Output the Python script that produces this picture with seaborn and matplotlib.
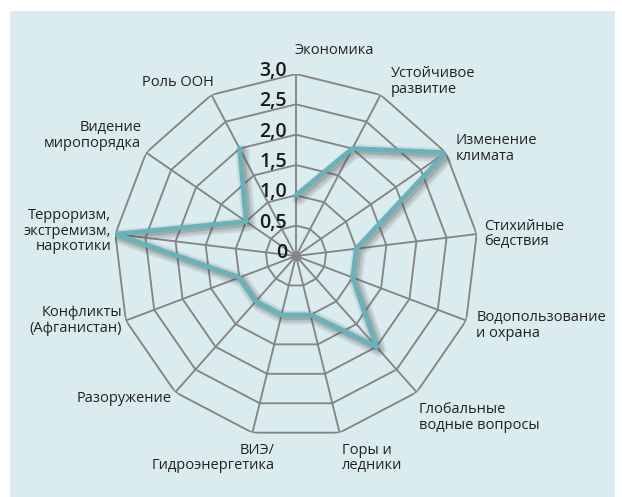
import numpy as np
import matplotlib
matplotlib.use('Agg')
import matplotlib.pyplot as plt
import matplotlib.patheffects as pe
from matplotlib.patches import Rectangle
import seaborn as sns

# Chart data
categories = ['Экономика', 'Устойчивое\nразвитие', 'Изменение\nклимата', 'Стихийные\nбедствия',
              'Водопользование\nи охрана', 'Глобальные\nводные вопросы', 'Горы и\nледники',
              'ВИЭ/\nГидроэнергетика', 'Разоружение', 'Конфликты\n(Афганистан)',
              'Терроризм,\nэкстремизм,\nнаркотики', 'Видение\nмиропорядка', 'Роль ООН']
values = [1.0, 2.0, 3.0, 1.0, 1.0, 2.0, 1.0, 1.0, 1.0, 1.0, 3.0, 1.0, 2.0]
ring_levels = [0.5, 1.0, 1.5, 2.0, 2.5, 3.0]
ring_labels = ['0', '0,5', '1,0', '1,5', '2,0', '2,5', '3,0']

sns.set_style('white')
plt.rcParams['font.family'] = ['Open Sans', 'DejaVu Sans']

grid_color = '#858585'
line_color = '#66b3b9'
panel_color = '#dbecef'

fig = plt.figure(figsize=(6.22, 4.97), dpi=100)
fig.patch.set_facecolor('white')
fig.patches.append(Rectangle((10 / 622, 0), 605 / 622, 486 / 497, transform=fig.transFigure,
                             facecolor=panel_color, edgecolor='none', zorder=-10))

ax = fig.add_axes([114 / 622, 59 / 497, 364 / 622, 364 / 497], projection='polar')
ax.set_theta_zero_location('N')
ax.set_theta_direction(-1)
ax.patch.set_visible(False)
ax.axis('off')
ax.set_ylim(0, 3)

n = len(categories)
theta = np.linspace(0, 2 * np.pi, n, endpoint=False)
theta_closed = np.append(theta, theta[0])

# polygon grid rings and spokes
for lvl in ring_levels:
    ax.plot(theta_closed, [lvl] * (n + 1), color=grid_color, lw=1.35, zorder=1)
for t in theta:
    ax.plot([t, t], [0, 3], color=grid_color, lw=1.35, zorder=1)
ax.plot([0], [0], 'o', color=grid_color, ms=6, zorder=1)

# data line with soft shadow
vals_closed = values + [values[0]]
sns.lineplot(x=theta_closed, y=vals_closed, ax=ax, sort=False, color=line_color,
             lw=3.3, zorder=3,
             path_effects=[pe.SimpleLineShadow(offset=(2, -2), shadow_color='#555555', alpha=0.12, linewidth=10),
                           pe.SimpleLineShadow(offset=(2, -2), shadow_color='#555555', alpha=0.15, linewidth=7),
                           pe.SimpleLineShadow(offset=(1.5, -1.5), shadow_color='#444444', alpha=0.2, linewidth=4.5),
                           pe.Normal()])
if ax.get_legend():
    ax.get_legend().remove()

# ring value labels
for lvl, lab in zip([0.0] + ring_levels, ring_labels):
    ax.annotate(lab, xy=(0, lvl), xytext=(-9, -2), textcoords='offset pixels',
                ha='right', va='baseline', fontsize=14, fontweight='semibold',
                color='#1a1a1a', zorder=5)

# category labels
label_style = [
    ('left', 'bottom', (-1, 16)),
    ('left', 'bottom', (10, -2)),
    ('left', 'center', (10, 4)),
    ('left', 'center', (7, 0)),
    ('left', 'center', (10, -5)),
    ('left', 'top', (2, -10)),
    ('left', 'top', (2, -10)),
    ('right', 'top', (22, -10)),
    ('right', 'center', (-4, -6)),
    ('right', 'center', (-4, 0)),
    ('right', 'center', (-4, 3)),
    ('right', 'bottom', (-5, 2)),
    ('right', 'bottom', (2, 5)),
]
for t, lab, (ha, va, off) in zip(theta, categories, label_style):
    ax.annotate(lab, xy=(t, 3), xytext=off, textcoords='offset pixels', ha=ha, va=va,
                multialignment=ha, fontsize=10.5, color='#222222', linespacing=1.05,
                annotation_clip=False, zorder=5)

fig.savefig('out.png', dpi=100, facecolor=fig.get_facecolor())
